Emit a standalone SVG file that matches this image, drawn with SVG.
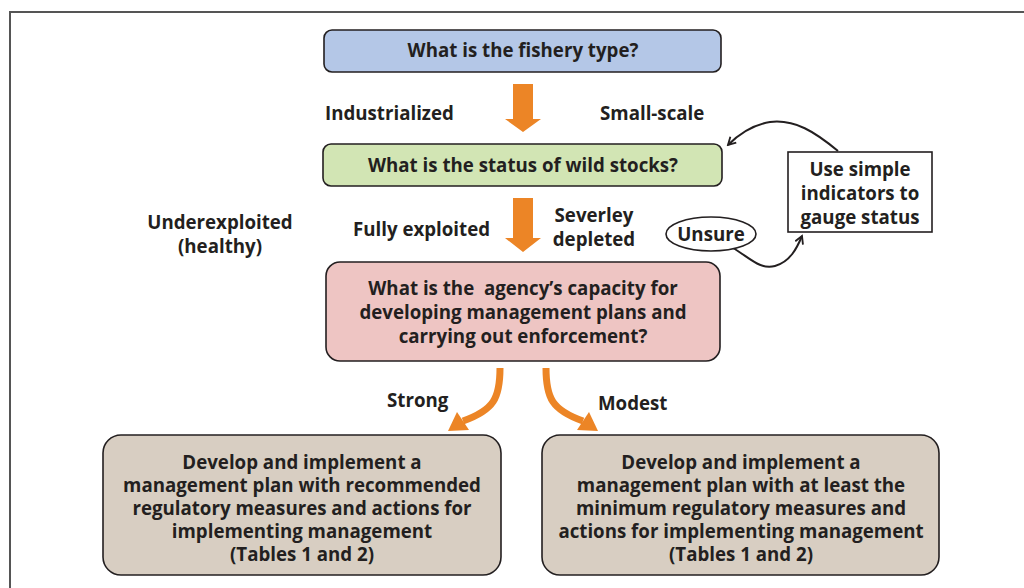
<svg xmlns="http://www.w3.org/2000/svg" width="1024" height="588" viewBox="0 0 1024 588">
<defs>
<style>
text{font-family:"Open Sans","Liberation Sans",sans-serif;font-weight:bold;fill:#231f20;font-size:18.7px}
.c{text-anchor:middle}
.box{stroke:#231f20;stroke-width:1.6}
.orange{fill:#ec8526}
.curve{fill:none;stroke:#231f20;stroke-width:2}
</style>
<marker id="open" viewBox="0 0 12 12" refX="10" refY="6" markerWidth="10" markerHeight="10" markerUnits="userSpaceOnUse" orient="auto">
<path d="M1,1 L10,6 L1,11" fill="none" stroke="#231f20" stroke-width="2.2"/>
</marker>
</defs>
<rect width="1024" height="588" fill="#ffffff"/>
<path d="M10,588 L10,12 L1024,12" fill="none" stroke="#555555" stroke-width="2"/>

<g id="connectors">
<polygon class="orange" points="513,84 533,84 533,119 541,119 523,132 505,119 513,119"/>
<polygon class="orange" points="513,198 533,198 533,238 541,238 523,252 505,238 513,238"/>
<path d="M500,368 C500,398 494,410 463,421" fill="none" stroke="#ec8526" stroke-width="7"/>
<polygon class="orange" points="448,431 469,430 457,412"/>
<path d="M546,368 C546,398 552,410 583,421" fill="none" stroke="#ec8526" stroke-width="7"/>
<polygon class="orange" points="598,431 577,430 589,412"/>
<path class="curve" d="M838,151 C815,132 795,119 770,122 C752,125 738,135 728,145" marker-end="url(#open)"/>
<path class="curve" d="M733,248 C750,258 760,270 775,266 C790,262 797,248 802,236" marker-end="url(#open)"/>
</g>

<g id="labels">
<text x="325" y="120">Industrialized</text>
<text x="600" y="120">Small-scale</text>
<text class="c" x="220" y="229">Underexploited</text>
<text class="c" x="220" y="253">(healthy)</text>
<text x="353" y="236">Fully exploited</text>
<text class="c" x="594" y="222">Severley</text>
<text class="c" x="594" y="246">depleted</text>
<text x="387" y="407">Strong</text>
<text x="598" y="410">Modest</text>
</g>

<g id="node-fishery">
<rect class="box" x="324" y="30" width="397" height="42" rx="8" fill="#b4c7e7"/>
<text class="c" x="523" y="57">What is the fishery type?</text>
</g>

<g id="node-status">
<rect class="box" x="323" y="144" width="399" height="42" rx="8" fill="#d2e5b4"/>
<text class="c" x="523" y="172">What is the status of wild stocks?</text>
</g>

<g id="node-unsure">
<ellipse cx="711" cy="234" rx="45" ry="17" fill="#ffffff" stroke="#231f20" stroke-width="1.6"/>
<text class="c" x="711" y="241">Unsure</text>
</g>

<g id="node-indicators">
<rect x="788" y="152" width="144" height="80" fill="#ffffff" stroke="#231f20" stroke-width="1.6"/>
<text class="c" x="860" y="176">Use simple</text>
<text class="c" x="860" y="200">indicators to</text>
<text class="c" x="860" y="224">gauge status</text>
</g>

<g id="node-capacity">
<rect class="box" x="326" y="262" width="394" height="99" rx="14" fill="#eec5c3"/>
<text class="c" x="523" y="295" style="white-space:pre">What is the  agency’s capacity for</text>
<text class="c" x="523" y="319">developing management plans and</text>
<text class="c" x="523" y="343">carrying out enforcement?</text>
</g>

<g id="node-strong">
<rect class="box" x="103" y="435" width="398" height="140" rx="18" fill="#d8cec2"/>
<text class="c" x="302" y="469">Develop and implement a</text>
<text class="c" x="302" y="492">management plan with recommended</text>
<text class="c" x="302" y="515">regulatory measures and actions for</text>
<text class="c" x="302" y="538">implementing management</text>
<text class="c" x="302" y="561">(Tables 1 and 2)</text>
</g>

<g id="node-modest">
<rect class="box" x="542" y="435" width="397" height="140" rx="18" fill="#d8cec2"/>
<text class="c" x="741" y="469">Develop and implement a</text>
<text class="c" x="741" y="492">management plan with at least the</text>
<text class="c" x="741" y="515">minimum regulatory measures and</text>
<text class="c" x="741" y="538">actions for implementing management</text>
<text class="c" x="741" y="561">(Tables 1 and 2)</text>
</g>
</svg>
